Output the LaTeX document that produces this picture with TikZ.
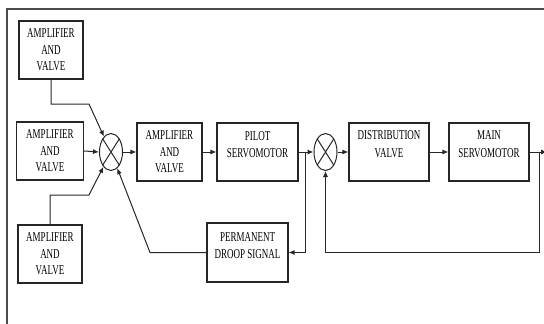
\documentclass[tikz,border=0pt]{standalone}
\usepackage{fontspec}
\setmainfont{Liberation Serif}
\usepackage{graphicx}
\usetikzlibrary{shapes.geometric,arrows.meta}
\newcommand{\tline}[1]{\scalebox{1}[1.5]{#1}}
\begin{document}
\begin{tikzpicture}[x=1pt,y=-1pt,
  box/.style={draw=black!85, line width=1.1pt, inner sep=0pt, align=center,
              font=\fontsize{9}{16.5}\selectfont},
  lbl/.style={inner sep=0pt, align=center, font=\fontsize{9}{17.5}\selectfont},
  sumj/.style={draw=black!85, ellipse, line width=1pt, minimum width=23pt,
               minimum height=37pt, inner sep=0pt},
  conn/.style={line width=1pt, draw=black!85},
  arr/.style={conn, -{Latex[length=6pt,width=5pt]}}]
\useasboundingbox (0,0) rectangle (544,324);
\draw[line width=1.2pt, black!70] (7,324) -- (7,9) -- (544,9);

% amplifier boxes
\node[box, minimum width=64pt, minimum height=58pt] (a1) at (51,50)
  {\tline{AMPLIFIER}\\\tline{AND}\\\tline{VALVE}};
\node[box, minimum width=67pt, minimum height=58pt] (a2) at (50,151)
  {\tline{AMPLIFIER}\\\tline{AND}\\\tline{VALVE}};
\node[box, minimum width=64pt, minimum height=58pt] (a3) at (50,254)
  {\tline{AMPLIFIER}\\\tline{AND}\\\tline{VALVE}};
\node[box, minimum width=65pt, minimum height=58pt] (a4) at (169.5,152)
  {\tline{AMPLIFIER}\\\tline{AND}\\\tline{VALVE}};

% other boxes
\node[box, minimum width=81pt, minimum height=58pt] (pilot) at (257.5,152) {};
\node[lbl] (pilott) at (257.5,144.5) {\tline{PILOT}\\\tline{SERVOMOTOR}};
\node[box, minimum width=80pt, minimum height=58pt] (dist) at (389,152) {};
\node[lbl] (distt) at (389,144) {\tline{DISTRIBUTION}\\\tline{VALVE}};
\node[box, minimum width=80pt, minimum height=58pt] (main) at (489,152) {};
\node[lbl] (maint) at (489,144) {\tline{MAIN}\\\tline{SERVOMOTOR}};
\node[box, minimum width=81pt, minimum height=59pt] (droop) at (247.5,252.5) {};
\node[lbl] (droopt) at (247.5,245.5) {\tline{PERMANENT}\\\tline{DROOP SIGNAL}};

% summing junctions
\node[sumj] (j1) at (111,152) {};
\draw[conn] (j1.north west) -- (j1.south east) (j1.north east) -- (j1.south west);
\node[sumj] (j2) at (325.5,152) {};
\draw[conn] (j2.north west) -- (j2.south east) (j2.north east) -- (j2.south west);

% helper coordinates
\coordinate (k1) at (89,104);
\coordinate (k3) at (89,195);
\coordinate (b1) at (305,152);
\coordinate (k4) at (150,252.5);
\coordinate (b2) at (539,152);
\coordinate (k5) at (539,252);
\coordinate (out) at (547,152);

% connectors
\draw[arr] (a1.south) |- (k1) -- (j1);
\draw[arr] (a3.north) |- (k3) -- (j1);
\draw[arr] (a2.east) -- (j1.west);
\draw[arr] (j1.east) -- (a4.west);
\draw[arr] (a4.east) -- (pilot.west);
\draw[arr] (pilot.east) -- (j2.west);
\draw[arr] (b1) |- (droop.east);
\draw[arr] (droop.west) -- (k4) -- (j1);
\draw[arr] (j2.east) -- (dist.west);
\draw[arr] (dist.east) -- (main.west);
\draw[arr] (main.east) -- (out);
\draw[arr] (b2) -- (k5) -| (j2.south);
\end{tikzpicture}
\end{document}
